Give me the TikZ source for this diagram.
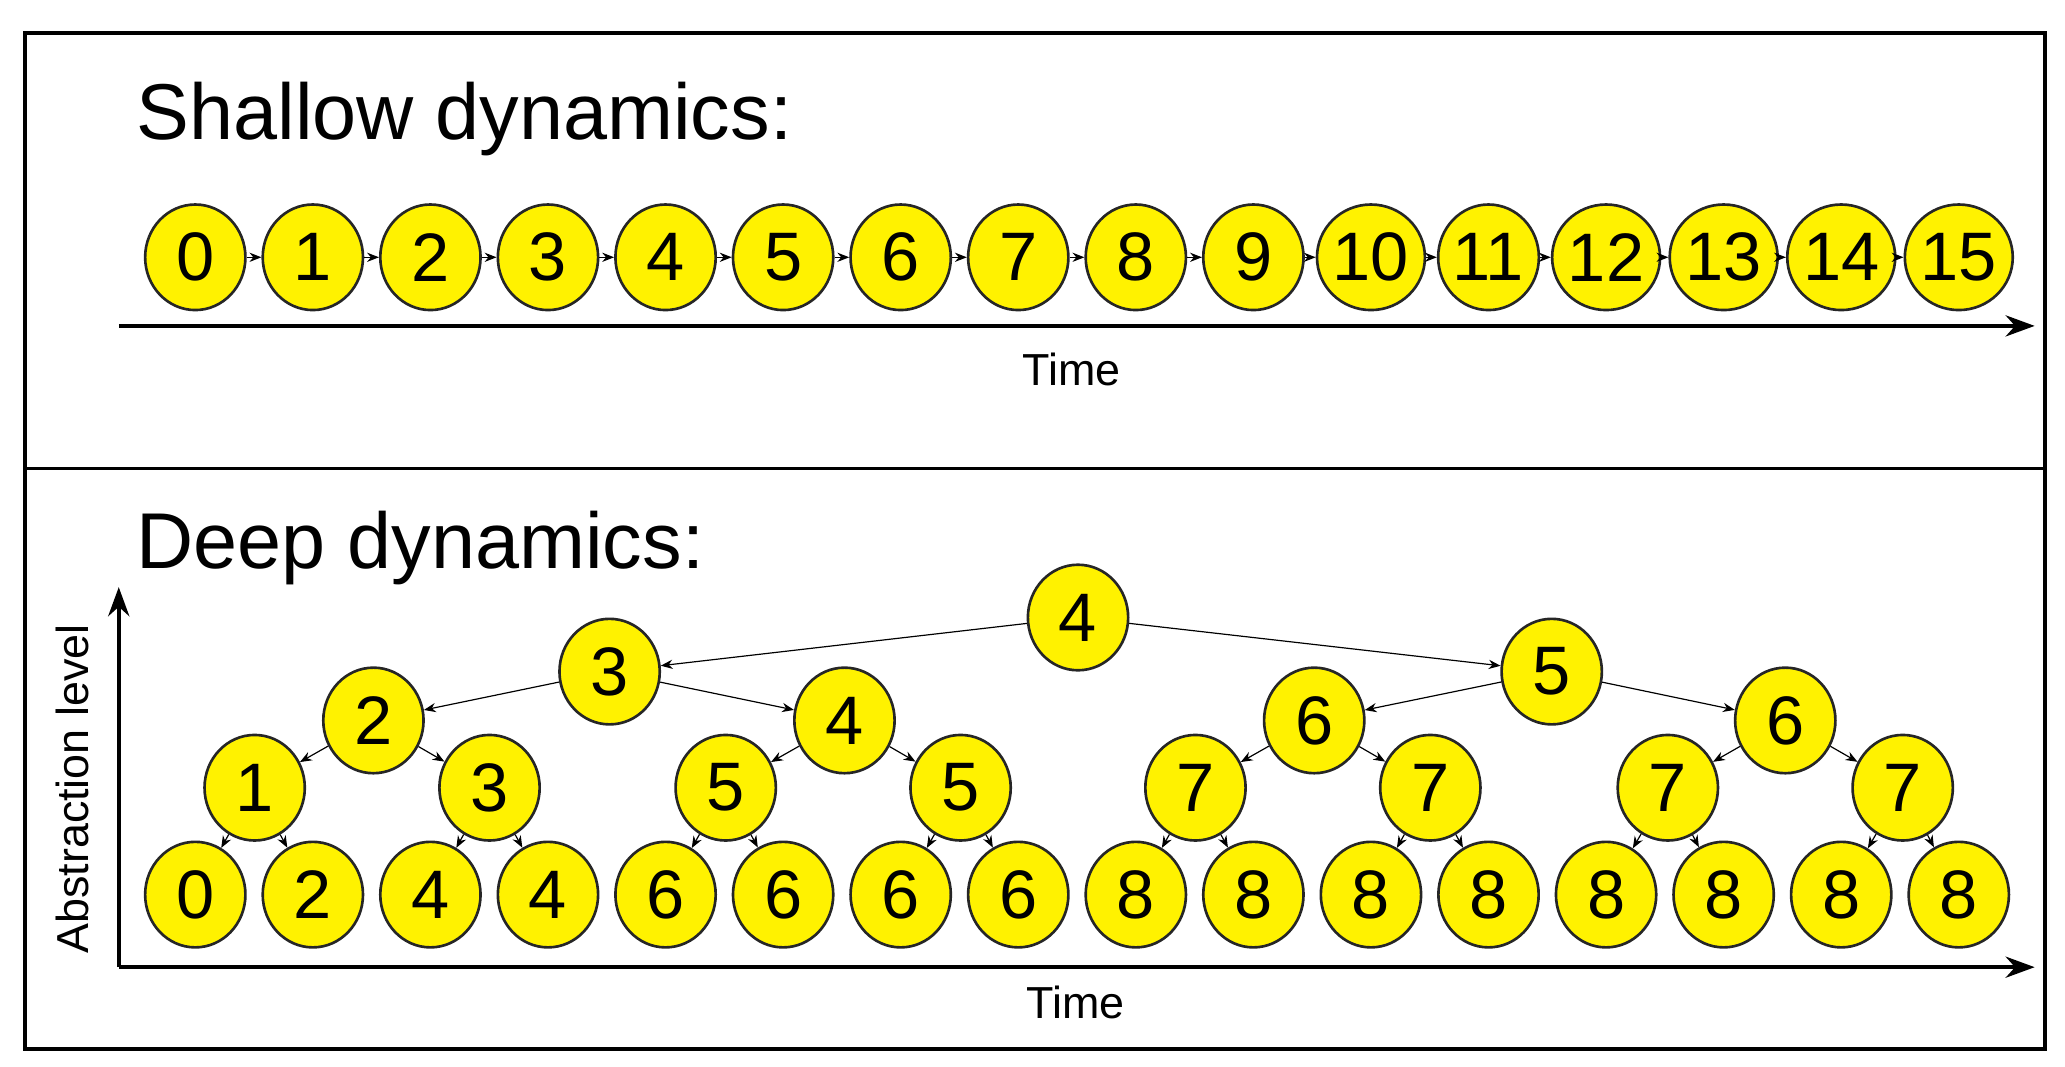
\documentclass[tikz,border=0pt]{standalone}
\usepackage{fontspec}
\setmainfont{Liberation Sans}
\usetikzlibrary{shapes.geometric,arrows.meta}
\begin{document}
\begin{tikzpicture}[x=1pt,y=1pt,
  st/.style={ellipse,draw=black!85,line width=2pt,fill=yellow,minimum width=76pt,minimum height=80pt,inner sep=0pt,font=\fontsize{52}{52}\selectfont},
  ar/.style={-{Stealth[length=9pt,width=7pt]},line width=0.9pt},
  ax/.style={-{Stealth[length=22pt,width=16pt]},line width=3pt},
  lab/.style={font=\fontsize{34}{34}\selectfont}]
\useasboundingbox (0,0) rectangle (1565,808);
\draw[line width=3pt] (19,13) rectangle (1550,783);
\draw[line width=2pt] (19,453) -- (1550,453);
\node[anchor=west,font=\fontsize{60}{60}\selectfont] (t1) at (100,718) {Shallow dynamics:};
\node[anchor=west,font=\fontsize{60}{60}\selectfont] (t2) at (100,393) {Deep dynamics:};
% shallow
\foreach \i in {0,...,15}{\node[st] (s\i) at ({148+\i*89.1},613) {\i};}
\foreach \i [evaluate=\i as \j using int(\i+1)] in {0,...,14}{\draw[ar] (s\i) -- (s\j);}
\coordinate (a1) at (90,561); \coordinate (a2) at (1542,561);
\draw[ax] (a1) -- (a2);
\node[lab] (tm1) at (812,528) {Time};
% deep bottom row
\foreach \i/\l in {0/0,1/2,2/4,3/4,4/6,5/6,6/6,7/6,8/8,9/8,10/8,11/8,12/8,13/8,14/8,15/8}{\node[st] (b\i) at ({148+\i*89.1},130) {\l};}
\foreach \i/\x/\l in {0/193/1,1/371/3,2/550/5,3/728/5,4/906/7,5/1084/7,6/1264/7,7/1442/7}{\node[st] (c\i) at (\x,211) {\l};}
\foreach \i/\x/\l in {0/283/2,1/640/4,2/996/6,3/1353/6}{\node[st] (d\i) at (\x,262) {\l};}
\node[st] (e0) at (462,299) {3};
\node[st] (e1) at (1176,299) {5};
\node[st] (f0) at (817,340) {4};
\draw[ar] (f0) -- (e0); \draw[ar] (f0) -- (e1);
\draw[ar] (e0) -- (d0); \draw[ar] (e0) -- (d1);
\draw[ar] (e1) -- (d2); \draw[ar] (e1) -- (d3);
\draw[ar] (d0) -- (c0); \draw[ar] (d0) -- (c1);
\draw[ar] (d1) -- (c2); \draw[ar] (d1) -- (c3);
\draw[ar] (d2) -- (c4); \draw[ar] (d2) -- (c5);
\draw[ar] (d3) -- (c6); \draw[ar] (d3) -- (c7);
\foreach \i [evaluate=\i as \a using int(2*\i), evaluate=\i as \b using int(2*\i+1)] in {0,...,7}{
  \draw[ar] (c\i) -- (b\a); \draw[ar] (c\i) -- (b\b);}
\coordinate (o) at (90,75); \coordinate (xe) at (1542,75); \coordinate (ye) at (90,363);
\draw[ax] (o) -- (xe);
\draw[ax] (o) -- (ye);
\node[lab] (tm2) at (815,48) {Time};
\node[lab,rotate=90] (al) at (55,210) {Abstraction level};
\end{tikzpicture}
\end{document}
